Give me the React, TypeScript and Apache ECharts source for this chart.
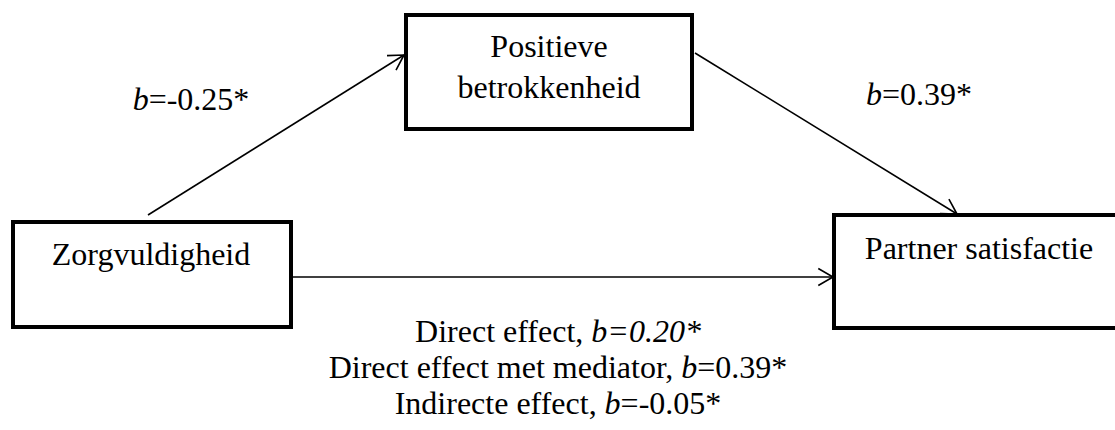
import React, { useEffect, useRef } from "react";
import * as echarts from "echarts";

// ---- content ----
const nodeLabels = ["Zorgvuldigheid", "Positieve", "betrokkenheid", "Partner satisfactie"];
const pathA = "-0.25*"; // Zorgvuldigheid -> Positieve betrokkenheid
const pathB = "0.39*"; // Positieve betrokkenheid -> Partner satisfactie
const effectNames = ["Direct effect", "Direct effect met mediator", "Indirecte effect"];
const effectValues = ["0.20*", "0.39*", "-0.05*"];

const FONT = "Liberation Serif";
const FS = 32;

function arrow(x1: number, y1: number, x2: number, y2: number) {
  const ang = Math.atan2(y2 - y1, x2 - x1);
  const len = 17;
  const spread = (30 * Math.PI) / 180;
  const p1 = [x2 - len * Math.cos(ang - spread), y2 - len * Math.sin(ang - spread)];
  const p2 = [x2 - len * Math.cos(ang + spread), y2 - len * Math.sin(ang + spread)];
  return [
    {
      type: "line",
      shape: { x1, y1, x2, y2 },
      style: { stroke: "#000", lineWidth: 1.6 },
    },
    {
      type: "polyline",
      shape: { points: [p1, [x2, y2], p2] },
      style: { stroke: "#000", lineWidth: 1.6, fill: null },
    },
  ];
}

function box(x: number, y: number, w: number, h: number) {
  return {
    type: "rect",
    shape: { x, y, width: w, height: h },
    style: { stroke: "#000", lineWidth: 4, fill: "#fff" },
  };
}

const base = { fontFamily: FONT, fontSize: FS, fill: "#000", fontStyle: "normal" };
const rich = {
  n: { ...base },
  i: { ...base, fontStyle: "italic" },
};

function txt(x: number, y: number, text: string) {
  return {
    type: "text",
    x,
    y,
    style: {
      text,
      rich,
      ...base,
      align: "center",
      verticalAlign: "middle",
    },
  };
}

export default function App() {
  const ref = useRef<HTMLDivElement>(null);
  useEffect(() => {
    if (!ref.current) return;
    const chart = echarts.init(ref.current, null, { renderer: "svg" });
    const elements: any[] = [
      ...arrow(148, 215, 404, 55),
      ...arrow(695, 53, 957, 214),
      ...arrow(293, 277, 833, 277),
      box(13, 222, 278, 105),
      box(406, 15, 286, 114),
      box(834, 215, 300, 113),
      txt(151, 254, `{n|${nodeLabels[0]}}`),
      txt(549, 46, `{n|${nodeLabels[1]}}`),
      txt(549, 87, `{n|${nodeLabels[2]}}`),
      txt(979, 248, `{n|${nodeLabels[3]}}`),
      txt(191, 99, `{i|b}{n|=${pathA}}`),
      txt(919, 94, `{i|b}{n|=${pathB}}`),
      txt(558, 331, `{n|${effectNames[0]},} {i|b=${effectValues[0]}}`),
      txt(558, 367, `{n|${effectNames[1]}, }{i|b}{n|=${effectValues[1]}}`),
      txt(558, 403, `{n|${effectNames[2]}, }{i|b}{n|=${effectValues[2]}}`),
    ];
    chart.setOption({
      animation: false,
      backgroundColor: "#fff",
      graphic: { elements },
    });
    return () => chart.dispose();
  }, []);
  return (
    <div
      ref={ref}
      style={{ position: "fixed", left: 0, top: 0, width: 1115, height: 430, background: "#fff" }}
    />
  );
}
